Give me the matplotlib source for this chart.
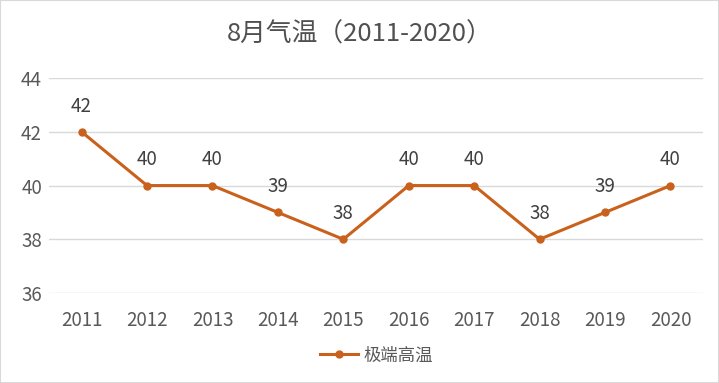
import matplotlib.pyplot as plt
from matplotlib.patches import Rectangle

plt.rcParams['font.family'] = ['Noto Sans CJK SC', 'DejaVu Sans']

# data
years = ['2011', '2012', '2013', '2014', '2015', '2016', '2017', '2018', '2019', '2020']
max_temp = [42, 40, 40, 39, 38, 40, 40, 38, 39, 40]
y_ticks = [36, 38, 40, 42, 44]

line_color = '#C9611C'
text_color = '#595959'

fig = plt.figure(figsize=(7.19, 3.83), dpi=100)
ax = fig.add_axes([0.068, 0.235, 0.91, 0.561])

x = list(range(len(years)))
ax.plot(x, max_temp, color=line_color, linewidth=2.2, marker='o', markersize=5,
        label='极端高温')

# value labels above points
for xi, v in zip(x, max_temp):
    ax.annotate(str(v), xy=(xi, v), xytext=(0, 11), textcoords='offset points',
                ha='center', va='bottom', fontsize=13.5, color='#404040')

ax.set_xlim(-0.5, len(years) - 0.5)
ax.set_ylim(36, 44)
ax.set_yticks(y_ticks)
ax.set_xticks(x)
ax.set_xticklabels(years)
ax.tick_params(length=0, labelsize=13.5, labelcolor=text_color)
ax.tick_params(axis='x', pad=12)
ax.tick_params(axis='y', pad=5)
ax.grid(axis='y', color='#D9D9D9', linewidth=1)
ax.set_axisbelow(True)
for s in ax.spines.values():
    s.set_visible(False)

fig.text(0.5, 0.909, '8月气温（2011-2020）', ha='center', va='center',
         fontsize=18.5, color='#505050')

ax.legend(loc='center', bbox_to_anchor=(0.5, -0.29), frameon=False,
          fontsize=12.5, labelcolor=text_color, handlelength=2.2,
          handletextpad=0.3)

# light outer border
fig.patches.append(Rectangle((0, 0), 1, 1, transform=fig.transFigure,
                             fill=False, edgecolor='#D9D9D9', linewidth=1.5))

fig.savefig('out.png', dpi=100)
